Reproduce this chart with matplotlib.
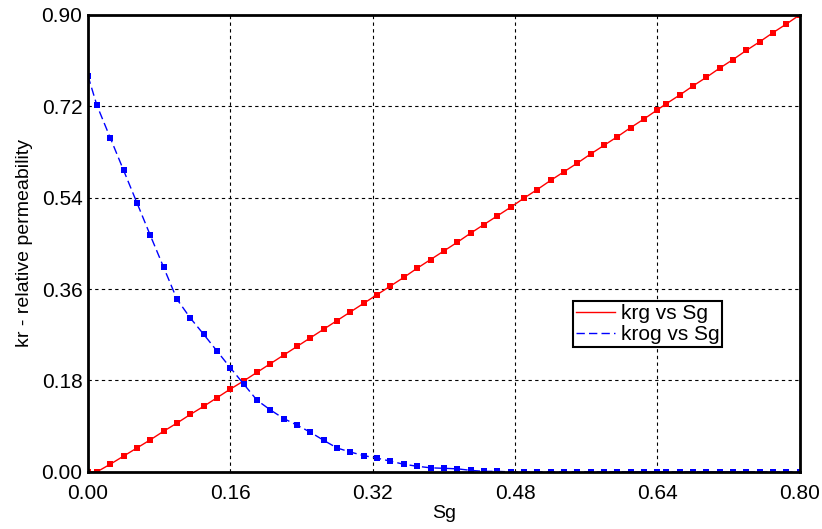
import matplotlib
matplotlib.use("Agg")
import matplotlib.pyplot as plt
from matplotlib.lines import Line2D

plt.rcParams['font.family'] = ['Liberation Sans', 'DejaVu Sans']

# gas saturation table
sg = [0.0, 0.01, 0.025, 0.04, 0.055, 0.07, 0.085, 0.1, 0.115, 0.13, 0.145,
      0.16, 0.175, 0.19, 0.205, 0.22, 0.235, 0.25, 0.265, 0.28, 0.295, 0.31,
      0.325, 0.34, 0.355, 0.37, 0.385, 0.4, 0.415, 0.43, 0.445, 0.46, 0.475,
      0.49, 0.505, 0.52, 0.535, 0.55, 0.565, 0.58, 0.595, 0.61, 0.625, 0.64,
      0.65, 0.665, 0.68, 0.695, 0.71, 0.725, 0.74, 0.755, 0.77, 0.785, 0.8]

krg = [0.0, 0.0, 0.015, 0.031, 0.047, 0.063, 0.080, 0.096, 0.113, 0.129, 0.146,
       0.163, 0.179, 0.196, 0.213, 0.230, 0.247, 0.264, 0.281, 0.298, 0.315, 0.332,
       0.349, 0.366, 0.383, 0.401, 0.418, 0.435, 0.452, 0.470, 0.487, 0.504, 0.521,
       0.539, 0.556, 0.574, 0.591, 0.608, 0.626, 0.643, 0.660, 0.678, 0.695, 0.713,
       0.725, 0.742, 0.760, 0.777, 0.795, 0.812, 0.830, 0.847, 0.865, 0.882, 0.900]

krog = [0.780, 0.722, 0.658, 0.594, 0.530, 0.466, 0.403, 0.340, 0.303, 0.271, 0.238,
        0.205, 0.173, 0.141, 0.122, 0.105, 0.092, 0.078, 0.062, 0.047, 0.039, 0.032,
        0.027, 0.021, 0.015, 0.011, 0.008, 0.007, 0.006, 0.003, 0.001, 0.001, 0.0,
        0.0, 0.0, 0.0, 0.0, 0.0, 0.0, 0.0, 0.0, 0.0, 0.0, 0.0,
        0.0, 0.0, 0.0, 0.0, 0.0, 0.0, 0.0, 0.0, 0.0, 0.0, 0.0]

x_ticks = [0.00, 0.16, 0.32, 0.48, 0.64, 0.80]
y_ticks = [0.00, 0.18, 0.36, 0.54, 0.72, 0.90]

fig = plt.figure(figsize=(8.22, 5.29), dpi=100)
ax = fig.add_axes([0.107, 0.108, 0.866, 0.864])

ax.plot(sg, krg, color='red', linestyle='-', linewidth=1,
        marker='s', markersize=3.8, markeredgewidth=0, zorder=3)
ax.plot(sg, krog, color='blue', linestyle=(0, (6, 3)), linewidth=1,
        marker='s', markersize=3.8, markeredgewidth=0, zorder=3)

ax.set_xlim(0, 0.8)
ax.set_ylim(0, 0.9)
ax.set_xticks(x_ticks)
ax.set_yticks(y_ticks)
ax.set_xticklabels(['%.2f' % v for v in x_ticks])
ax.set_yticklabels(['%.2f' % v for v in y_ticks])
ax.tick_params(direction='in', length=0, labelsize=15)
ax.tick_params(axis='x', pad=9)
ax.tick_params(axis='y', pad=4)

ax.grid(True, color='black', linestyle=(0, (3, 3)), linewidth=0.8)
for sp in ax.spines.values():
    sp.set_linewidth(2)
    sp.set_zorder(4)

ax.set_xlabel('Sg', fontsize=14, labelpad=1)
ax.set_ylabel('kr - relative permeability', fontsize=14, labelpad=6)

handles = [Line2D([], [], color='red', linestyle='-', linewidth=1),
           Line2D([], [], color='blue', linestyle=(0, (6, 3)), linewidth=1)]
leg = ax.legend(handles, ['krg vs Sg', 'krog vs Sg'], loc='upper left',
                bbox_to_anchor=(0.681, 0.374), fontsize=15, fancybox=False,
                framealpha=1, edgecolor='black', borderpad=0.15,
                handlelength=1.9, handletextpad=0.25, labelspacing=0.1,
                borderaxespad=0)
leg.get_frame().set_linewidth(1.5)

plt.savefig('out.png', dpi=100)
plt.close('all')
